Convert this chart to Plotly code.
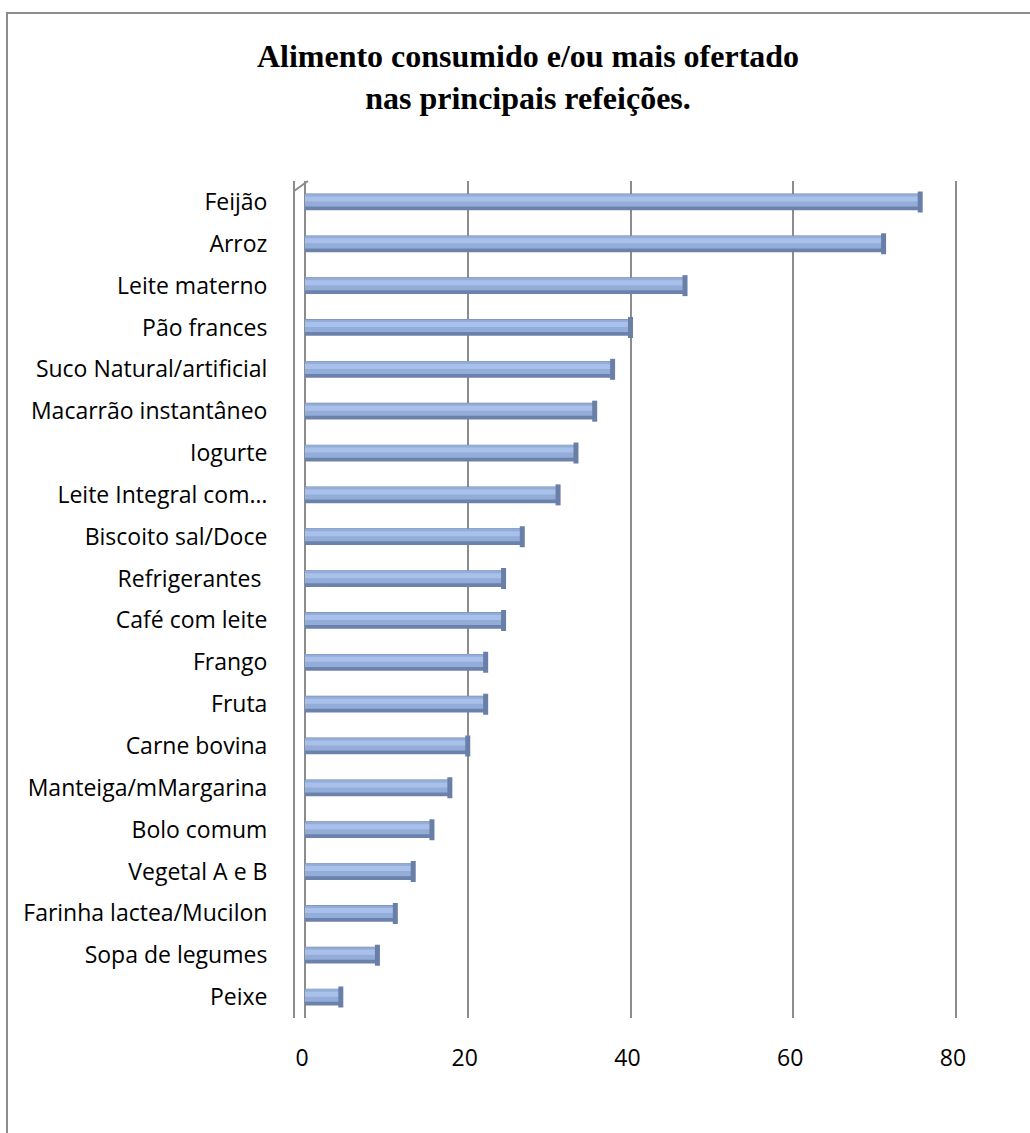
import plotly.graph_objects as go

categories = ["Feijão", "Arroz", "Leite materno", "Pão frances", "Suco Natural/artificial",
              "Macarrão instantâneo", "Iogurte", "Leite Integral com…", "Biscoito sal/Doce",
              "Refrigerantes ", "Café com leite", "Frango", "Fruta", "Carne bovina",
              "Manteiga/mMargarina", "Bolo comum", "Vegetal A e B", "Farinha lactea/Mucilon",
              "Sopa de legumes", "Peixe"]
values = [75.6, 71.1, 46.7, 40.0, 37.8, 35.6, 33.3, 31.1, 26.7, 24.4, 24.4, 22.2, 22.2,
          20.0, 17.8, 15.6, 13.3, 11.1, 8.9, 4.4]
x_ticks = [0, 20, 40, 60, 80]

W, H = 1030, 1133
L, R = 294, 962          # plot area left/right (px)
T, B = 181, 1018         # plot area top/bottom (px)
x0_px, x80_px = 305, 956

fig = go.Figure()
# cylinder-like bars: dark base, mid body, highlight
fig.add_trace(go.Bar(y=categories, x=values, orientation="h", width=0.40,
                     marker=dict(color="#6c82ac", line=dict(width=0)), hoverinfo="skip"))
fig.add_trace(go.Bar(y=categories, x=values, orientation="h", width=0.30, offset=-0.19,
                     marker=dict(color="#93add9", line=dict(width=0)), hoverinfo="skip"))
fig.add_trace(go.Bar(y=categories, x=values, orientation="h", width=0.12, offset=-0.13,
                     marker=dict(color="#a9c1ea", line=dict(width=0))))
fig.add_trace(go.Scatter(y=categories, x=values, mode="markers",
                         marker=dict(symbol="line-ns", size=15,
                                     line=dict(width=5, color="#6a7fa8")),
                         hoverinfo="skip"))

pw = R - L
ph = B - T
# x range padded slightly so that gridlines at 0 and 80 are drawn
pad = 0.4
scale = (x80_px - x0_px) / 80.0
xa0_px = x0_px - pad * scale
xa1_px = x80_px + pad * scale
dom0 = (xa0_px - L) / pw
dom1 = (xa1_px - L) / pw

tick_font = dict(family="'Open Sans', sans-serif", size=23, color="#000000")

fig.update_layout(
    width=W, height=H,
    margin=dict(l=L, r=W - R, t=T, b=H - B, pad=0),
    barmode="overlay",
    showlegend=False,
    plot_bgcolor="white", paper_bgcolor="white",
    font=tick_font,
    title=dict(text="<b>Alimento consumido e/ou mais ofertado<br>nas principais refeições.</b>",
               x=528 / W, xref="container", xanchor="center",
               y=1 - 67 / H, yref="container", yanchor="middle",
               font=dict(family="'Liberation Serif', 'Times New Roman', serif", size=32,
                         color="#000000")),
    xaxis=dict(domain=[dom0, dom1], range=[-pad, 80 + pad], tickvals=x_ticks,
               ticktext=[str(v) for v in x_ticks],
               showgrid=True, gridcolor="#8c8c8c", gridwidth=2,
               zeroline=False, showline=False, ticks="",
               ticklabelstandoff=24, ticklabelshift=-3,
               tickfont=tick_font),
    yaxis=dict(autorange=False, range=[len(categories) - 0.5, -0.5],
               anchor="free", position=0,
               showline=True, linecolor="#8c8c8c", linewidth=2,
               showgrid=False, ticks="", ticklabelstandoff=21,
               tickfont=tick_font),
)

def px_to_paper_x(px):
    return (px - L) / pw

def px_to_paper_y(py):
    return (B - py) / ph

# outer frame (top and left border)
fig.add_shape(type="line", xref="paper", yref="paper",
              x0=px_to_paper_x(6), x1=px_to_paper_x(W), y0=px_to_paper_y(13), y1=px_to_paper_y(13),
              line=dict(color="#8c8c8c", width=2))
fig.add_shape(type="line", xref="paper", yref="paper",
              x0=px_to_paper_x(7), x1=px_to_paper_x(7), y0=px_to_paper_y(13), y1=px_to_paper_y(H),
              line=dict(color="#8c8c8c", width=2))
# 3D wall top corner
fig.add_shape(type="line", xref="paper", yref="paper",
              x0=0, x1=px_to_paper_x(x0_px + 3), y0=px_to_paper_y(191), y1=1,
              line=dict(color="#8c8c8c", width=2))

fig.write_html("out.html")
